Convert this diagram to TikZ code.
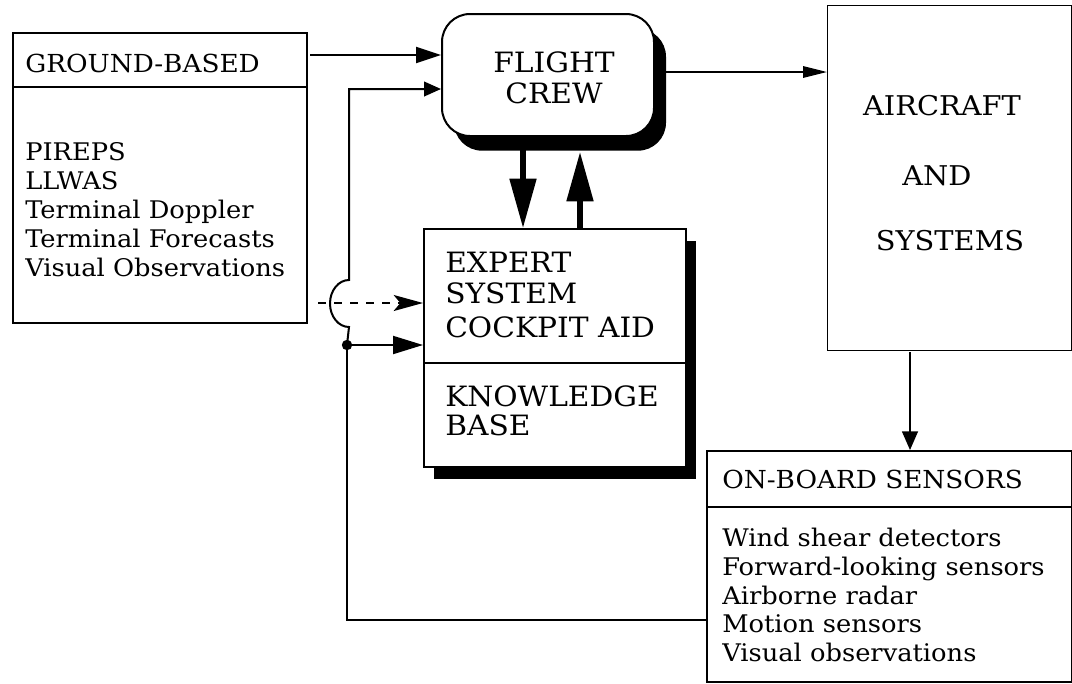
\documentclass[tikz,border=0pt]{standalone}
\usepackage{fontspec}
\setmainfont{DejaVu Serif}[FakeStretch=1.06]
\usetikzlibrary{arrows.meta,shadows}
\begin{document}
\begin{tikzpicture}[x=0.75pt,y=-0.75pt,
  box/.style={draw, line width=1.5pt, fill=white, inner sep=0pt, anchor=north west},
  thinbox/.style={draw, line width=1.1pt, fill=white, inner sep=0pt, anchor=north west},
  hdr/.style={font=\fontsize{18.6}{20}\selectfont, inner sep=0pt, anchor=base west},
  body/.style={font=\fontsize{18.2}{20}\selectfont, inner sep=0pt, anchor=base west},
  big/.style={font=\fontsize{21}{22}\selectfont, inner sep=0pt, anchor=base west},
  acfont/.style={font=\fontsize{20.4}{22}\selectfont, inner sep=0pt, anchor=base},
  conn/.style={line width=1.5pt},
  thin/.style={line width=1pt},
  thick arrow/.style={line width=3.8pt, -{Triangle[length=37pt,width=19.5pt]}}
]
\useasboundingbox (0,0) rectangle (1072,683);

% ---- boxes ----
\node[box, minimum width=220.5pt, minimum height=217.5pt] (gb) at (12,32) {};
\node[box, rounded corners=21pt, minimum width=159pt, minimum height=91.5pt,
      drop shadow={shadow xshift=9pt, shadow yshift=-11pt, fill=black, opacity=1}] (fc) at (441,13) {};
\node[box, minimum width=196.5pt, minimum height=178.5pt,
      drop shadow={shadow xshift=7.5pt, shadow yshift=-9pt, fill=black, opacity=1}] (ex) at (423,228) {};
\node[thinbox, minimum width=183pt, minimum height=258.75pt] (ac) at (827,5) {};
\node[box, minimum width=273.75pt, minimum height=173.25pt] (sn) at (706,450) {};

% dividers
\coordinate (gbdL) at (12,87);  \coordinate (gbdR) at (306,87);
\draw[conn] (gbdL) -- (gbdR);
\coordinate (exdL) at (423,363); \coordinate (exdR) at (685,363);
\draw[conn] (exdL) -- (exdR);
\coordinate (sndL) at (706,507); \coordinate (sndR) at (1071,507);
\draw[conn] (sndL) -- (sndR);

% ---- texts ----
\node[hdr] (gbh) at (25,72) {GROUND-BASED};
\node[body] (g1) at (25,160) {PIREPS};
\node[body] (g2) at (25,189) {LLWAS};
\node[body] (g3) at (25,218) {Terminal Doppler};
\node[body] (g4) at (25,247) {Terminal Forecasts};
\node[body] (g5) at (25,276) {Visual Observations};

\node[big, anchor=base] (fc1) at (554,72) {FLIGHT};
\node[big, anchor=base] (fc2) at (554,103) {CREW};

\node[big] (e1) at (445,272) {EXPERT};
\node[big] (e2) at (445,303) {SYSTEM};
\node[big] (e3) at (445,337) {COCKPIT AID};
\node[big] (e4) at (445,406) {KNOWLEDGE};
\node[big] (e5) at (445,435) {BASE};

\node[acfont] (a1) at (942,115) {AIRCRAFT};
\node[acfont] (a2) at (937,185) {AND};
\node[acfont] (a3) at (950,250) {SYSTEMS};

\node[hdr] (snh) at (722,488) {ON-BOARD SENSORS};
\node[body] (s1) at (722,546) {Wind shear detectors};
\node[body] (s2) at (722,575) {Forward-looking sensors};
\node[body] (s3) at (722,604) {Airborne radar};
\node[body] (s4) at (722,632) {Motion sensors};
\node[body] (s5) at (722,661) {Visual observations};

% ---- connectors ----
\coordinate (gbout) at (310,55);
\draw[conn, -{Triangle[length=18.75pt,width=12pt]}] (gbout) -- (fc.west |- gbout);

\coordinate (fcout) at (665,72);
\draw[conn, -{Triangle[length=18pt,width=8.5pt]}] (fcout) -- (ac.west |- fcout);

\coordinate (acdown) at (910,352);
\draw[thin, -{Triangle[length=14pt,width=12pt]}] (acdown) -- (acdown |- sn.north);

% thick arrows between flight crew and expert system
\coordinate (dnTop) at (523,150);
\coordinate (upTop) at (580,152);
\draw[thick arrow] (dnTop) -- (dnTop |- ex.north);
\draw[thick arrow] (upTop |- ex.north) -- (upTop);

% feedback loop from on-board sensors
\coordinate (dot) at (347,345);
\coordinate (fbL) at (347,620);
\coordinate (fbR) at (sn.west |- fbL);
\coordinate (brB) at (349,327);
\coordinate (brT) at (349,89);
\draw[conn] (fbR) -- (fbL) -- (dot);
\draw[conn, -{Triangle[length=12.75pt,width=11pt]}]
  (dot) -- (brB) arc[start angle=90, end angle=270, x radius=19, y radius=23.5]
  -- (brT) -- (fc.west |- brT);
\draw[conn, -{Triangle[length=22.5pt,width=13.5pt]}] (dot) -- (ex.west |- dot);
\fill (dot) circle[radius=3.9pt];

% dashed input
\coordinate (dashS) at (318,303);
\draw[conn, dash pattern=on 6pt off 6pt, -{Stealth[length=22pt,width=12pt,inset=5pt]}]
  (dashS) -- (ex.west |- dashS);
\end{tikzpicture}
\end{document}
